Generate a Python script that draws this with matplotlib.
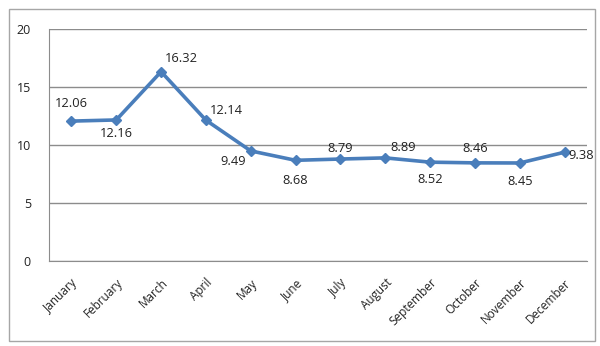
import matplotlib
matplotlib.use("Agg")
import matplotlib.pyplot as plt
from matplotlib.patches import Rectangle

months = ["January", "February", "March", "April", "May", "June", "July",
          "August", "September", "October", "November", "December"]
values = [12.06, 12.16, 16.32, 12.14, 9.49, 8.68, 8.79, 8.89, 8.52, 8.46, 8.45, 9.38]
y_ticks = [0, 5, 10, 15, 20]
# label offsets in pixels (dx, dy) relative to each point
label_offsets = [(0, 18), (0, -14), (20, 13), (20, 10), (-18, -11), (0, -20),
                 (0, 11), (18, 10), (0, -17), (0, 14), (0, -19), (17, -3)]

plt.rcParams["font.family"] = ["Open Sans", "DejaVu Sans"]
line_color = "#4a7ebb"
grid_color = "#8c8c8c"
text_color = "#222222"

fig = plt.figure(figsize=(6.0, 3.46), dpi=100)
W, H = 600, 346
fig.patches.append(Rectangle((9 / W, 1 - 341 / H), 586 / W, 332 / H,
                             transform=fig.transFigure, fill=False,
                             edgecolor="#a6a6a6", linewidth=1.0))

ax = fig.add_axes([49 / W, 1 - 261 / H, 538 / W, 232 / H])
x = list(range(len(months)))
ax.plot(x, values, color=line_color, linewidth=2.6, marker="D",
        markersize=5, zorder=3)

for xi, v, (dx, dy) in zip(x, values, label_offsets):
    ax.annotate(f"{v:.2f}", (xi, v), xytext=(dx, dy), textcoords="offset pixels",
                ha="center", va="center", fontsize=9.3, color=text_color)

ax.set_xlim(-0.5, len(months) - 0.5)
ax.set_ylim(0, 20)
ax.set_yticks(y_ticks)
ax.set_yticklabels([str(t) for t in y_ticks], fontsize=9, color=text_color)
ax.set_xticks(x)
ax.set_xticklabels(months, rotation=45, ha="right", va="top",
                   rotation_mode="anchor", fontsize=8.5, color=text_color)
ax.tick_params(length=0, pad=11)
ax.tick_params(axis="y", pad=13)
ax.grid(axis="y", color=grid_color, linewidth=1.0)
ax.set_axisbelow(True)
for side in ["top", "right"]:
    ax.spines[side].set_visible(False)
ax.spines["left"].set_color(grid_color)
ax.spines["bottom"].set_color(grid_color)

fig.savefig("out.png", dpi=100)
